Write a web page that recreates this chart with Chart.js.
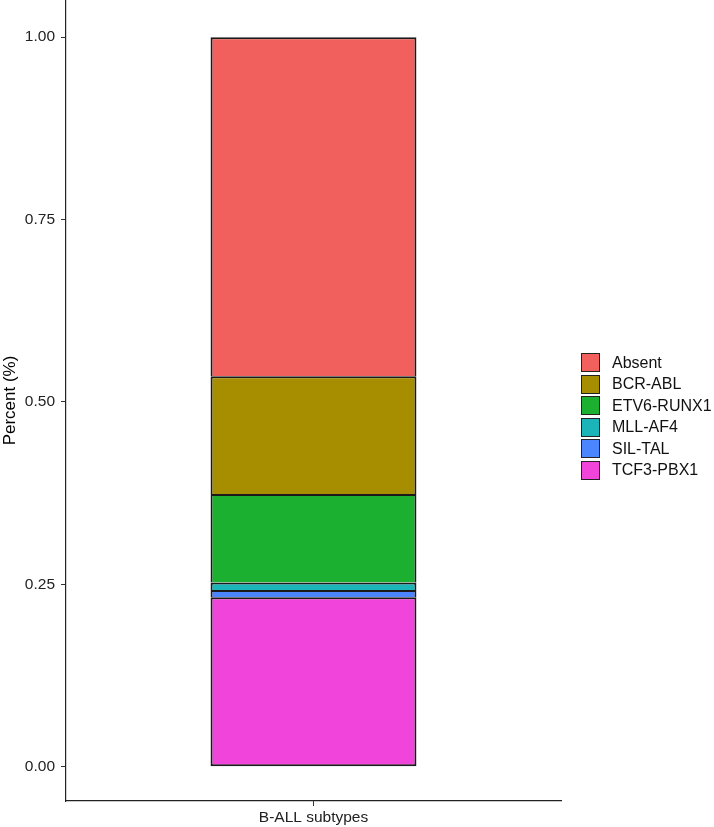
<!DOCTYPE html>
<html>
<head>
<meta charset="utf-8">
<script src="https://cdn.jsdelivr.net/npm/chart.js@4.4.1/dist/chart.umd.min.js"></script>
<style>
  html, body { margin: 0; padding: 0; background: #fff; }
  #wrap { position: relative; width: 714px; height: 827px; overflow: hidden; }
  #legend { position: absolute; left: 581px; top: 352px; font-family: Arial, "Liberation Sans", sans-serif; font-size: 16px; color: #111; }
  .item { display: flex; align-items: center; height: 21.5px; white-space: nowrap; }
  .box { width: 19px; height: 19px; box-sizing: border-box; border: 1.5px solid #222; margin-right: 12px; }
</style>
</head>
<body>
<div id="wrap">
  <canvas id="chart" width="714" height="827"></canvas>
  <div id="legend"></div>
</div>
<script>
// single category on the x axis
const categories = ["B-ALL subtypes"];

// subtypes, top of the stack first (same order as the legend)
const subtypes = ["Absent", "BCR-ABL", "ETV6-RUNX1", "MLL-AF4", "SIL-TAL", "TCF3-PBX1"];
const fractions = [0.4647, 0.1616, 0.1212, 0.0101, 0.0101, 0.2323];
const colors = ["#F2605D", "#A78E00", "#1BB030", "#1AB4B9", "#4B85FF", "#F044DB"];

const yTicks = [0, 0.25, 0.5, 0.75, 1];

// stacked bars are drawn bottom-up, so reverse the order;
// only the lowest segment keeps its bottom edge so shared edges are not doubled
const datasets = subtypes.map((name, i) => ({
  label: name,
  data: [fractions[i]],
  backgroundColor: colors[i],
  borderColor: "#1a1a1a",
  borderWidth: { top: 2, left: 2, right: 2, bottom: i === subtypes.length - 1 ? 2 : 0 },
  borderSkipped: false,
  barPercentage: 1,
  categoryPercentage: 0.416
})).reverse();

const fontFamily = "Arial, 'Liberation Sans', sans-serif";

new Chart(document.getElementById("chart").getContext("2d"), {
  type: "bar",
  data: { labels: categories, datasets: datasets },
  options: {
    responsive: false,
    animation: false,
    layout: { padding: { left: 0, right: 153, top: 0, bottom: 0 } },
    plugins: {
      legend: { display: false },
      tooltip: { enabled: false }
    },
    scales: {
      x: {
        stacked: true,
        grid: { display: true, offset: false, drawOnChartArea: false, tickLength: 5, color: "#333", tickWidth: 1 },
        border: { display: true, color: "#222", width: 1.2 },
        ticks: { color: "#222", padding: 2, font: { family: fontFamily, size: 15.5 } },
        afterFit: (scale) => { scale.height = 26; scale.paddingLeft = 0; scale.paddingRight = 0; }
      },
      y: {
        stacked: true,
        min: -0.047,
        max: 1.051,
        afterBuildTicks: (scale) => { scale.ticks = yTicks.map(v => ({ value: v })); },
        grid: { display: true, drawOnChartArea: false, tickLength: 5, color: "#333", tickWidth: 1 },
        border: { display: true, color: "#222", width: 1.2 },
        ticks: {
          color: "#222",
          padding: 6,
          font: { family: fontFamily, size: 15.5 },
          callback: (v) => Number(v).toFixed(2)
        },
        title: {
          display: true,
          text: "Percent (%)",
          color: "#000",
          padding: { top: 0, bottom: 0 },
          font: { family: fontFamily, size: 17 }
        },
        afterFit: (scale) => { scale.width = 66; scale.paddingTop = 0; scale.paddingBottom = 0; }
      }
    }
  }
});

// legend, built from the same arrays
const legend = document.getElementById("legend");
subtypes.forEach((name, i) => {
  const row = document.createElement("div");
  row.className = "item";
  const box = document.createElement("span");
  box.className = "box";
  box.style.background = colors[i];
  const txt = document.createElement("span");
  txt.textContent = name;
  row.appendChild(box);
  row.appendChild(txt);
  legend.appendChild(row);
});
</script>
</body>
</html>
